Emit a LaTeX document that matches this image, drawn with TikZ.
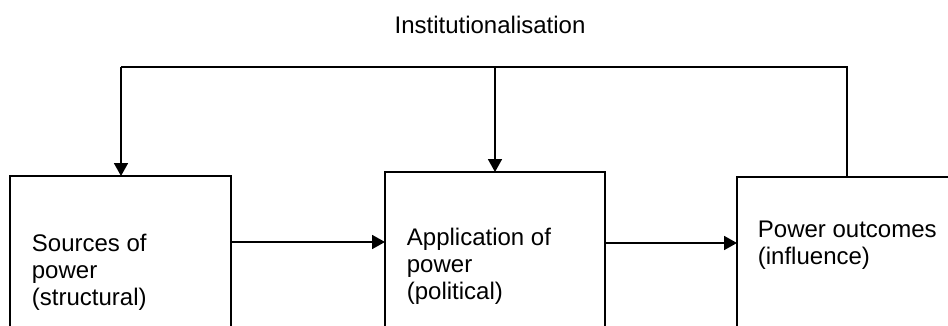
\documentclass[tikz,border=0pt]{standalone}
\usepackage{fontspec}
\setmainfont{Liberation Sans}
\usetikzlibrary{arrows.meta}
\begin{document}
\begin{tikzpicture}[x=1pt,y=-1pt, line width=1.8pt,
  box/.style={draw, rectangle, inner sep=0pt, outer sep=0pt, anchor=north west, minimum height=220pt},
  lbl/.style={anchor=base west, inner sep=0pt, font=\fontsize{24}{27}\selectfont, align=left},
  arr/.style={-{Triangle[length=13pt,width=14pt]}}]
\useasboundingbox (0,0) rectangle (948,325);
\clip (0,0) rectangle (948,325);
% boxes
\node[box, minimum width=221pt] (src) at (10,176) {};
\node[box, minimum width=220pt] (app) at (385,172) {};
\node[box, minimum width=260pt] (out) at (737,177) {};
% labels (anchor = baseline of last line)
\node[lbl] (srcT) at (31,305) {Sources of\\power\\(structural)};
\node[lbl] (appT) at (406,299) {Application of\\power\\(political)};
\node[lbl] (outT) at (757,264) {Power outcomes\\(influence)};
\node[anchor=base, inner sep=0pt, font=\fontsize{24}{27}\selectfont] (inst) at (490,33) {Institutionalisation};
% feedback loop
\coordinate (tl) at (121,67);
\coordinate (tm) at (495,67);
\coordinate (tr) at (847,67);
\draw (out.north -| tr) -- (tr) -- (tl);
\draw[arr] (tl) -- (tl |- src.north);
\draw[arr] (tm) -- (tm |- app.north);
% forward arrows
\draw[arr] (src.east |- 0,242) -- (app.west |- 0,242);
\draw[arr] (app.east |- 0,243) -- (out.west |- 0,243);
\end{tikzpicture}
\end{document}
